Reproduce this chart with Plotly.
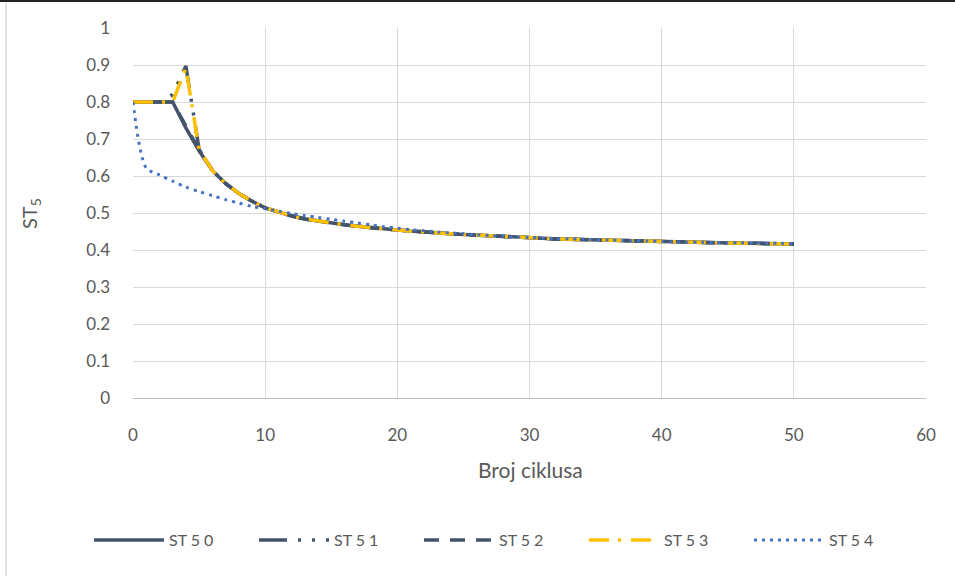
import plotly.graph_objects as go

cycles = list(range(0, 51))

st50 = [0.8, 0.8, 0.8, 0.8, 0.73, 0.668, 0.615, 0.58, 0.553, 0.532, 0.514,
        0.502, 0.492, 0.484, 0.478, 0.473, 0.468, 0.464, 0.46, 0.457, 0.454,
        0.451, 0.448, 0.446, 0.444, 0.442, 0.44, 0.438, 0.436, 0.434, 0.432,
        0.431, 0.43, 0.429, 0.428, 0.427, 0.426, 0.425, 0.424, 0.423, 0.422,
        0.421, 0.42, 0.42, 0.419, 0.419, 0.418, 0.418, 0.417, 0.417, 0.416]
st51 = [0.8, 0.8, 0.8, 0.82, 0.897, 0.672, 0.615, 0.58, 0.553, 0.532, 0.514,
        0.502, 0.492, 0.484, 0.478, 0.473, 0.468, 0.464, 0.46, 0.457, 0.454,
        0.451, 0.448, 0.446, 0.444, 0.442, 0.44, 0.438, 0.436, 0.434, 0.432,
        0.431, 0.43, 0.429, 0.428, 0.427, 0.426, 0.425, 0.424, 0.423, 0.422,
        0.421, 0.42, 0.42, 0.419, 0.419, 0.418, 0.418, 0.417, 0.417, 0.416]
st52 = [0.8, 0.8, 0.8, 0.8, 0.735, 0.67, 0.616, 0.58, 0.553, 0.532, 0.514,
        0.502, 0.492, 0.484, 0.478, 0.473, 0.468, 0.464, 0.46, 0.457, 0.454,
        0.451, 0.448, 0.446, 0.444, 0.442, 0.44, 0.438, 0.436, 0.434, 0.432,
        0.431, 0.43, 0.429, 0.428, 0.427, 0.426, 0.425, 0.424, 0.423, 0.422,
        0.421, 0.42, 0.42, 0.419, 0.419, 0.418, 0.418, 0.417, 0.417, 0.416]
st53 = [0.8, 0.8, 0.8, 0.8, 0.892, 0.672, 0.615, 0.58, 0.553, 0.532, 0.514,
        0.502, 0.492, 0.484, 0.478, 0.473, 0.468, 0.464, 0.46, 0.457, 0.454,
        0.451, 0.448, 0.446, 0.444, 0.442, 0.44, 0.438, 0.436, 0.434, 0.432,
        0.431, 0.43, 0.429, 0.428, 0.427, 0.426, 0.425, 0.424, 0.423, 0.422,
        0.421, 0.42, 0.42, 0.419, 0.419, 0.418, 0.418, 0.417, 0.417, 0.416]
st54 = [0.8, 0.622, 0.603, 0.586, 0.57, 0.558, 0.547, 0.536, 0.527, 0.518, 0.512,
        0.505, 0.499, 0.493, 0.488, 0.483, 0.478, 0.473, 0.468, 0.463, 0.459,
        0.455, 0.452, 0.449, 0.446, 0.444, 0.441, 0.439, 0.437, 0.435, 0.434,
        0.432, 0.431, 0.43, 0.429, 0.428, 0.427, 0.426, 0.425, 0.424, 0.423,
        0.422, 0.421, 0.421, 0.42, 0.42, 0.419, 0.419, 0.418, 0.418, 0.417]

series_names = ["ST 5 0", "ST 5 1", "ST 5 2", "ST 5 3", "ST 5 4"]
x_title = "Broj ciklusa"
y_title = "ST<sub>5</sub>"

DARK = "#44546A"
YELLOW = "#FFC000"
BLUE = "#4472C4"
TXT = "#595959"
FONT = "Lato, Carlito, Calibri, sans-serif"

fig = go.Figure()
fig.add_trace(go.Scatter(x=cycles, y=st50, name=series_names[0], mode="lines",
                         line=dict(color=DARK, width=3.5)))
fig.add_trace(go.Scatter(x=cycles, y=st51, name=series_names[1], mode="lines",
                         line=dict(color=DARK, width=3.5, dash="28px,11px,3px,11px,3px,11px")))
fig.add_trace(go.Scatter(x=cycles, y=st52, name=series_names[2], mode="lines",
                         line=dict(color=DARK, width=3.5, dash="15px,11px")))
fig.add_trace(go.Scatter(x=cycles, y=st53, name=series_names[3], mode="lines",
                         line=dict(color=YELLOW, width=3.5, dash="20px,9px,3px,10px")))
fig.add_trace(go.Scatter(x=cycles, y=st54, name=series_names[4], mode="lines",
                         line=dict(color=BLUE, width=3, dash="3px,5px", shape="spline", smoothing=0.8)))

L, R, T, B = 133, 29, 28, 178
W, H = 955, 576
pw, ph = W - L - R, H - T - B

def px_x(p):
    return (p - L) / pw

def px_y(p):
    return (H - B - p) / ph

fig.update_layout(
    width=W, height=H,
    margin=dict(l=L, r=R, t=T, b=B, pad=0),
    paper_bgcolor="white", plot_bgcolor="white",
    font=dict(family=FONT, size=17, color=TXT),
    showlegend=True,
    legend=dict(orientation="h", x=px_x(89), xanchor="left", y=px_y(540), yanchor="middle",
                itemwidth=70, entrywidth=80, entrywidthmode="pixels",
                font=dict(family=FONT, size=16, color=TXT), traceorder="normal",
                bgcolor="rgba(0,0,0,0)"),
    xaxis=dict(range=[0, 60], dtick=10, tick0=0, showgrid=True, gridcolor="#D9D9D9", gridwidth=1,
               zeroline=False, showline=True, linecolor="#BFBFBF", linewidth=1,
               ticks="", ticklabelstandoff=22, tickfont=dict(size=17, color=TXT)),
    yaxis=dict(range=[0, 1], dtick=0.1, tick0=0, showgrid=True, gridcolor="#D9D9D9", gridwidth=1,
               zeroline=False, showline=False, ticks="", ticklabelstandoff=22,
               tickformat="~g", tickfont=dict(size=17, color=TXT)),
    annotations=[
        dict(text=x_title, xref="paper", yref="paper", x=px_x(530), y=px_y(469),
             xanchor="center", yanchor="middle", showarrow=False,
             font=dict(family=FONT, size=21, color=TXT)),
        dict(text=y_title, xref="paper", yref="paper", x=px_x(30), y=px_y(214),
             xanchor="center", yanchor="middle", showarrow=False, textangle=-90,
             font=dict(family=FONT, size=20, color=TXT)),
    ],
    shapes=[
        dict(type="line", xref="paper", yref="paper", x0=px_x(0), x1=px_x(955), y0=px_y(1), y1=px_y(1),
             line=dict(color="#222222", width=2)),
        dict(type="line", xref="paper", yref="paper", x0=px_x(6), x1=px_x(6), y0=px_y(3), y1=px_y(576),
             line=dict(color="#D9D9D9", width=1.5)),
    ],
)

fig.write_html("out.html", config={"displayModeBar": False},
               post_script="document.body.style.margin='0px';document.body.style.padding='0px';")
